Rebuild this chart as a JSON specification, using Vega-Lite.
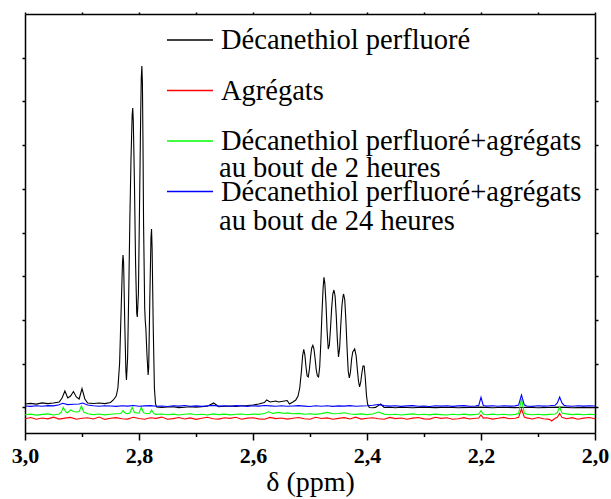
{
"$schema": "https://vega.github.io/schema/vega-lite/v6.json",
"width": 570, "height": 419,
"autosize": {"type": "none"},
"padding": {"left": 25, "top": 14, "right": 16, "bottom": 66},
"background": "white",
"config": {"view": {"stroke": null}, "font": "Times New Roman"},
"datasets": {
"spec": [
{"s":"a","x":3.00,"y":29.0},{"s":"a","x":2.99,"y":29.6},{"s":"a","x":2.98,"y":28.9},{"s":"a","x":2.97,"y":30.1},{"s":"a","x":2.96,"y":29.4},{"s":"a","x":2.95,"y":30.0},{"s":"a","x":2.94,"y":31.0},{"s":"a","x":2.935,"y":35.0},{"s":"a","x":2.930,"y":42.0},{"s":"a","x":2.925,"y":35.0},{"s":"a","x":2.920,"y":37.0},{"s":"a","x":2.915,"y":41.5},{"s":"a","x":2.910,"y":36.0},{"s":"a","x":2.905,"y":34.0},{"s":"a","x":2.900,"y":44.5},{"s":"a","x":2.895,"y":34.0},{"s":"a","x":2.890,"y":30.0},{"s":"a","x":2.88,"y":29.5},{"s":"a","x":2.87,"y":30.0},{"s":"a","x":2.86,"y":29.4},{"s":"a","x":2.85,"y":30.5},{"s":"a","x":2.845,"y":33.0},{"s":"a","x":2.840,"y":37.0},{"s":"a","x":2.837,"y":45.0},{"s":"a","x":2.834,"y":70.0},{"s":"a","x":2.831,"y":130.0},{"s":"a","x":2.829,"y":170.0},{"s":"a","x":2.828,"y":178.0},{"s":"a","x":2.827,"y":170.0},{"s":"a","x":2.825,"y":110.0},{"s":"a","x":2.823,"y":62.0},{"s":"a","x":2.822,"y":53.0},{"s":"a","x":2.820,"y":75.0},{"s":"a","x":2.818,"y":140.0},{"s":"a","x":2.816,"y":215.0},{"s":"a","x":2.814,"y":275.0},{"s":"a","x":2.812,"y":318.0},{"s":"a","x":2.811,"y":325.0},{"s":"a","x":2.810,"y":312.0},{"s":"a","x":2.808,"y":250.0},{"s":"a","x":2.806,"y":170.0},{"s":"a","x":2.804,"y":120.0},{"s":"a","x":2.803,"y":116.0},{"s":"a","x":2.801,"y":140.0},{"s":"a","x":2.799,"y":230.0},{"s":"a","x":2.797,"y":320.0},{"s":"a","x":2.796,"y":355.0},{"s":"a","x":2.795,"y":367.0},{"s":"a","x":2.794,"y":350.0},{"s":"a","x":2.793,"y":290.0},{"s":"a","x":2.792,"y":210.0},{"s":"a","x":2.790,"y":125.0},{"s":"a","x":2.789,"y":112.0},{"s":"a","x":2.788,"y":105.0},{"s":"a","x":2.786,"y":78.0},{"s":"a","x":2.784,"y":58.0},{"s":"a","x":2.783,"y":65.0},{"s":"a","x":2.781,"y":135.0},{"s":"a","x":2.779,"y":195.0},{"s":"a","x":2.778,"y":204.0},{"s":"a","x":2.777,"y":185.0},{"s":"a","x":2.775,"y":105.0},{"s":"a","x":2.773,"y":45.0},{"s":"a","x":2.771,"y":29.0},{"s":"a","x":2.769,"y":26.0},{"s":"a","x":2.76,"y":25.5},{"s":"a","x":2.75,"y":26.0},{"s":"a","x":2.74,"y":26.2},{"s":"a","x":2.73,"y":25.4},{"s":"a","x":2.72,"y":25.8},{"s":"a","x":2.71,"y":26.3},{"s":"a","x":2.70,"y":25.9},{"s":"a","x":2.69,"y":26.4},{"s":"a","x":2.68,"y":26.8},{"s":"a","x":2.669,"y":30.0},{"s":"a","x":2.66,"y":26.2},{"s":"a","x":2.65,"y":26.7},{"s":"a","x":2.64,"y":27.0},{"s":"a","x":2.63,"y":26.6},{"s":"a","x":2.62,"y":27.2},{"s":"a","x":2.61,"y":27.5},{"s":"a","x":2.60,"y":28.0},{"s":"a","x":2.59,"y":29.0},{"s":"a","x":2.58,"y":30.5},{"s":"a","x":2.576,"y":33.0},{"s":"a","x":2.57,"y":31.0},{"s":"a","x":2.565,"y":31.5},{"s":"a","x":2.56,"y":32.0},{"s":"a","x":2.555,"y":31.0},{"s":"a","x":2.55,"y":31.5},{"s":"a","x":2.54,"y":32.5},{"s":"a","x":2.536,"y":29.0},{"s":"a","x":2.530,"y":31.0},{"s":"a","x":2.525,"y":33.0},{"s":"a","x":2.521,"y":37.0},{"s":"a","x":2.518,"y":45.0},{"s":"a","x":2.515,"y":62.0},{"s":"a","x":2.513,"y":77.0},{"s":"a","x":2.511,"y":83.7},{"s":"a","x":2.509,"y":78.0},{"s":"a","x":2.507,"y":66.0},{"s":"a","x":2.505,"y":57.0},{"s":"a","x":2.503,"y":56.0},{"s":"a","x":2.501,"y":64.0},{"s":"a","x":2.499,"y":76.0},{"s":"a","x":2.497,"y":85.0},{"s":"a","x":2.495,"y":87.7},{"s":"a","x":2.493,"y":84.0},{"s":"a","x":2.491,"y":74.0},{"s":"a","x":2.489,"y":63.0},{"s":"a","x":2.487,"y":57.0},{"s":"a","x":2.485,"y":56.0},{"s":"a","x":2.483,"y":66.0},{"s":"a","x":2.481,"y":90.0},{"s":"a","x":2.479,"y":120.0},{"s":"a","x":2.477,"y":145.0},{"s":"a","x":2.4755,"y":155.7},{"s":"a","x":2.474,"y":150.0},{"s":"a","x":2.472,"y":130.0},{"s":"a","x":2.470,"y":102.0},{"s":"a","x":2.468,"y":84.0},{"s":"a","x":2.466,"y":88.0},{"s":"a","x":2.464,"y":105.0},{"s":"a","x":2.462,"y":125.0},{"s":"a","x":2.460,"y":139.0},{"s":"a","x":2.458,"y":143.0},{"s":"a","x":2.456,"y":137.0},{"s":"a","x":2.454,"y":118.0},{"s":"a","x":2.452,"y":93.0},{"s":"a","x":2.450,"y":76.0},{"s":"a","x":2.448,"y":85.0},{"s":"a","x":2.446,"y":108.0},{"s":"a","x":2.444,"y":127.0},{"s":"a","x":2.442,"y":137.0},{"s":"a","x":2.441,"y":139.0},{"s":"a","x":2.439,"y":133.0},{"s":"a","x":2.437,"y":112.0},{"s":"a","x":2.435,"y":85.0},{"s":"a","x":2.433,"y":62.0},{"s":"a","x":2.431,"y":55.0},{"s":"a","x":2.429,"y":61.0},{"s":"a","x":2.427,"y":74.0},{"s":"a","x":2.425,"y":81.0},{"s":"a","x":2.4216,"y":84.0},{"s":"a","x":2.419,"y":77.0},{"s":"a","x":2.417,"y":64.0},{"s":"a","x":2.415,"y":52.0},{"s":"a","x":2.413,"y":46.0},{"s":"a","x":2.411,"y":51.0},{"s":"a","x":2.409,"y":60.0},{"s":"a","x":2.407,"y":67.0},{"s":"a","x":2.405,"y":67.0},{"s":"a","x":2.403,"y":55.0},{"s":"a","x":2.401,"y":38.0},{"s":"a","x":2.399,"y":29.0},{"s":"a","x":2.396,"y":25.5},{"s":"a","x":2.39,"y":25.3},{"s":"a","x":2.385,"y":25.6},{"s":"a","x":2.376,"y":29.0},{"s":"a","x":2.37,"y":25.5},{"s":"a","x":2.36,"y":25.8},{"s":"a","x":2.35,"y":25.2},{"s":"a","x":2.34,"y":25.7},{"s":"a","x":2.32,"y":25.3},{"s":"a","x":2.30,"y":25.9},{"s":"a","x":2.28,"y":25.4},{"s":"a","x":2.26,"y":25.8},{"s":"a","x":2.24,"y":25.2},{"s":"a","x":2.22,"y":25.6},{"s":"a","x":2.20,"y":25.9},{"s":"a","x":2.18,"y":25.3},{"s":"a","x":2.16,"y":25.7},{"s":"a","x":2.14,"y":25.4},{"s":"a","x":2.12,"y":25.8},{"s":"a","x":2.10,"y":25.3},{"s":"a","x":2.08,"y":25.6},{"s":"a","x":2.06,"y":25.9},{"s":"a","x":2.04,"y":25.2},{"s":"a","x":2.02,"y":25.6},{"s":"a","x":2.00,"y":25.4},

{"s":"b","x":3.00,"y":14.2},{"s":"b","x":2.99,"y":15.5},{"s":"b","x":2.98,"y":13.8},{"s":"b","x":2.97,"y":15.0},{"s":"b","x":2.96,"y":14.1},{"s":"b","x":2.95,"y":15.8},{"s":"b","x":2.94,"y":13.9},{"s":"b","x":2.93,"y":14.9},{"s":"b","x":2.92,"y":15.6},{"s":"b","x":2.91,"y":13.7},{"s":"b","x":2.90,"y":14.8},{"s":"b","x":2.89,"y":15.3},{"s":"b","x":2.88,"y":14.0},{"s":"b","x":2.87,"y":15.9},{"s":"b","x":2.86,"y":13.6},{"s":"b","x":2.85,"y":14.7},{"s":"b","x":2.84,"y":15.4},{"s":"b","x":2.83,"y":14.3},{"s":"b","x":2.82,"y":13.9},{"s":"b","x":2.81,"y":15.7},{"s":"b","x":2.80,"y":14.5},{"s":"b","x":2.79,"y":13.8},{"s":"b","x":2.78,"y":15.2},{"s":"b","x":2.77,"y":14.6},{"s":"b","x":2.76,"y":15.9},{"s":"b","x":2.75,"y":13.7},{"s":"b","x":2.74,"y":14.4},{"s":"b","x":2.73,"y":15.5},{"s":"b","x":2.72,"y":14.0},{"s":"b","x":2.71,"y":15.1},{"s":"b","x":2.70,"y":13.6},{"s":"b","x":2.69,"y":14.8},{"s":"b","x":2.68,"y":15.7},{"s":"b","x":2.67,"y":14.2},{"s":"b","x":2.66,"y":13.9},{"s":"b","x":2.65,"y":15.3},{"s":"b","x":2.64,"y":14.6},{"s":"b","x":2.63,"y":15.8},{"s":"b","x":2.62,"y":13.8},{"s":"b","x":2.61,"y":14.9},{"s":"b","x":2.60,"y":15.2},{"s":"b","x":2.59,"y":14.1},{"s":"b","x":2.58,"y":13.7},{"s":"b","x":2.57,"y":15.6},{"s":"b","x":2.56,"y":14.4},{"s":"b","x":2.55,"y":15.0},{"s":"b","x":2.54,"y":13.9},{"s":"b","x":2.53,"y":14.8},{"s":"b","x":2.52,"y":15.5},{"s":"b","x":2.51,"y":14.2},{"s":"b","x":2.50,"y":13.8},{"s":"b","x":2.49,"y":15.7},{"s":"b","x":2.48,"y":14.5},{"s":"b","x":2.47,"y":15.1},{"s":"b","x":2.46,"y":13.7},{"s":"b","x":2.45,"y":14.6},{"s":"b","x":2.44,"y":15.4},{"s":"b","x":2.43,"y":14.0},{"s":"b","x":2.42,"y":15.8},{"s":"b","x":2.41,"y":13.9},{"s":"b","x":2.40,"y":14.7},{"s":"b","x":2.39,"y":15.3},{"s":"b","x":2.38,"y":14.2},{"s":"b","x":2.37,"y":13.8},{"s":"b","x":2.36,"y":15.6},{"s":"b","x":2.35,"y":14.4},{"s":"b","x":2.34,"y":15.0},{"s":"b","x":2.33,"y":13.7},{"s":"b","x":2.32,"y":14.9},{"s":"b","x":2.31,"y":15.5},{"s":"b","x":2.30,"y":14.1},{"s":"b","x":2.29,"y":13.9},{"s":"b","x":2.28,"y":15.7},{"s":"b","x":2.27,"y":14.6},{"s":"b","x":2.26,"y":15.2},{"s":"b","x":2.25,"y":13.8},{"s":"b","x":2.24,"y":14.3},{"s":"b","x":2.23,"y":15.4},{"s":"b","x":2.22,"y":14.0},{"s":"b","x":2.21,"y":14.8},{"s":"b","x":2.204,"y":15.0},{"s":"b","x":2.200,"y":18.0},{"s":"b","x":2.196,"y":14.9},{"s":"b","x":2.19,"y":15.3},{"s":"b","x":2.18,"y":13.9},{"s":"b","x":2.17,"y":14.7},{"s":"b","x":2.16,"y":15.6},{"s":"b","x":2.15,"y":14.2},{"s":"b","x":2.14,"y":14.8},{"s":"b","x":2.134,"y":15.8},{"s":"b","x":2.129,"y":24.0},{"s":"b","x":2.124,"y":16.0},{"s":"b","x":2.12,"y":15.1},{"s":"b","x":2.11,"y":14.0},{"s":"b","x":2.10,"y":15.5},{"s":"b","x":2.09,"y":14.3},{"s":"b","x":2.08,"y":13.6},{"s":"b","x":2.076,"y":12.0},{"s":"b","x":2.07,"y":14.8},{"s":"b","x":2.066,"y":15.8},{"s":"b","x":2.062,"y":19.7},{"s":"b","x":2.058,"y":15.6},{"s":"b","x":2.05,"y":14.2},{"s":"b","x":2.04,"y":15.4},{"s":"b","x":2.03,"y":13.8},{"s":"b","x":2.02,"y":14.9},{"s":"b","x":2.01,"y":15.5},{"s":"b","x":2.00,"y":14.3},

{"s":"c","x":3.00,"y":18.2},{"s":"c","x":2.99,"y":18.9},{"s":"c","x":2.98,"y":17.9},{"s":"c","x":2.97,"y":18.6},{"s":"c","x":2.96,"y":19.1},{"s":"c","x":2.95,"y":18.0},{"s":"c","x":2.94,"y":19.0},{"s":"c","x":2.936,"y":21.0},{"s":"c","x":2.933,"y":25.7},{"s":"c","x":2.929,"y":21.5},{"s":"c","x":2.926,"y":20.0},{"s":"c","x":2.920,"y":23.0},{"s":"c","x":2.915,"y":21.5},{"s":"c","x":2.910,"y":21.0},{"s":"c","x":2.905,"y":21.5},{"s":"c","x":2.901,"y":27.0},{"s":"c","x":2.897,"y":21.0},{"s":"c","x":2.89,"y":19.3},{"s":"c","x":2.88,"y":18.4},{"s":"c","x":2.87,"y":19.0},{"s":"c","x":2.86,"y":18.1},{"s":"c","x":2.85,"y":18.8},{"s":"c","x":2.84,"y":19.2},{"s":"c","x":2.832,"y":19.5},{"s":"c","x":2.828,"y":22.3},{"s":"c","x":2.824,"y":19.8},{"s":"c","x":2.82,"y":19.4},{"s":"c","x":2.816,"y":20.0},{"s":"c","x":2.812,"y":25.7},{"s":"c","x":2.808,"y":20.5},{"s":"c","x":2.80,"y":19.8},{"s":"c","x":2.796,"y":25.7},{"s":"c","x":2.792,"y":20.2},{"s":"c","x":2.785,"y":19.3},{"s":"c","x":2.781,"y":19.8},{"s":"c","x":2.778,"y":23.0},{"s":"c","x":2.774,"y":19.4},{"s":"c","x":2.77,"y":18.6},{"s":"c","x":2.76,"y":19.0},{"s":"c","x":2.75,"y":18.2},{"s":"c","x":2.74,"y":18.9},{"s":"c","x":2.73,"y":18.0},{"s":"c","x":2.72,"y":18.7},{"s":"c","x":2.71,"y":19.2},{"s":"c","x":2.70,"y":18.3},{"s":"c","x":2.69,"y":18.8},{"s":"c","x":2.68,"y":18.0},{"s":"c","x":2.67,"y":19.1},{"s":"c","x":2.66,"y":18.4},{"s":"c","x":2.65,"y":18.9},{"s":"c","x":2.64,"y":18.1},{"s":"c","x":2.63,"y":18.7},{"s":"c","x":2.62,"y":19.0},{"s":"c","x":2.61,"y":18.3},{"s":"c","x":2.60,"y":18.9},{"s":"c","x":2.59,"y":18.6},{"s":"c","x":2.58,"y":19.5},{"s":"c","x":2.573,"y":21.2},{"s":"c","x":2.565,"y":19.6},{"s":"c","x":2.555,"y":20.6},{"s":"c","x":2.545,"y":19.5},{"s":"c","x":2.54,"y":20.1},{"s":"c","x":2.53,"y":19.2},{"s":"c","x":2.52,"y":19.6},{"s":"c","x":2.51,"y":18.8},{"s":"c","x":2.50,"y":19.3},{"s":"c","x":2.49,"y":18.6},{"s":"c","x":2.48,"y":19.4},{"s":"c","x":2.47,"y":20.6},{"s":"c","x":2.46,"y":19.2},{"s":"c","x":2.45,"y":19.5},{"s":"c","x":2.44,"y":20.3},{"s":"c","x":2.43,"y":19.0},{"s":"c","x":2.42,"y":18.6},{"s":"c","x":2.41,"y":19.1},{"s":"c","x":2.40,"y":18.4},{"s":"c","x":2.39,"y":19.0},{"s":"c","x":2.38,"y":21.0},{"s":"c","x":2.37,"y":18.9},{"s":"c","x":2.36,"y":18.2},{"s":"c","x":2.35,"y":18.8},{"s":"c","x":2.34,"y":18.0},{"s":"c","x":2.33,"y":18.6},{"s":"c","x":2.32,"y":19.1},{"s":"c","x":2.31,"y":18.3},{"s":"c","x":2.30,"y":18.7},{"s":"c","x":2.29,"y":18.1},{"s":"c","x":2.28,"y":18.9},{"s":"c","x":2.27,"y":18.4},{"s":"c","x":2.26,"y":18.0},{"s":"c","x":2.25,"y":18.8},{"s":"c","x":2.24,"y":18.3},{"s":"c","x":2.23,"y":18.9},{"s":"c","x":2.22,"y":18.1},{"s":"c","x":2.21,"y":18.6},{"s":"c","x":2.204,"y":19.0},{"s":"c","x":2.200,"y":22.3},{"s":"c","x":2.196,"y":18.8},{"s":"c","x":2.19,"y":18.3},{"s":"c","x":2.18,"y":18.9},{"s":"c","x":2.17,"y":18.2},{"s":"c","x":2.16,"y":18.7},{"s":"c","x":2.15,"y":18.0},{"s":"c","x":2.14,"y":18.6},{"s":"c","x":2.134,"y":19.5},{"s":"c","x":2.129,"y":34.0},{"s":"c","x":2.124,"y":19.8},{"s":"c","x":2.12,"y":18.9},{"s":"c","x":2.11,"y":18.3},{"s":"c","x":2.10,"y":18.8},{"s":"c","x":2.09,"y":18.1},{"s":"c","x":2.08,"y":18.6},{"s":"c","x":2.07,"y":19.0},{"s":"c","x":2.066,"y":20.5},{"s":"c","x":2.062,"y":26.3},{"s":"c","x":2.058,"y":20.0},{"s":"c","x":2.05,"y":19.1},{"s":"c","x":2.04,"y":18.4},{"s":"c","x":2.03,"y":18.9},{"s":"c","x":2.02,"y":18.2},{"s":"c","x":2.01,"y":18.8},{"s":"c","x":2.00,"y":18.5},

{"s":"d","x":3.00,"y":27.0},{"s":"d","x":2.99,"y":26.6},{"s":"d","x":2.98,"y":27.3},{"s":"d","x":2.97,"y":26.8},{"s":"d","x":2.96,"y":27.4},{"s":"d","x":2.95,"y":27.1},{"s":"d","x":2.94,"y":28.2},{"s":"d","x":2.934,"y":29.7},{"s":"d","x":2.925,"y":28.4},{"s":"d","x":2.915,"y":28.8},{"s":"d","x":2.905,"y":29.0},{"s":"d","x":2.899,"y":30.0},{"s":"d","x":2.89,"y":28.0},{"s":"d","x":2.88,"y":27.2},{"s":"d","x":2.87,"y":26.8},{"s":"d","x":2.86,"y":27.3},{"s":"d","x":2.85,"y":27.0},{"s":"d","x":2.84,"y":26.6},{"s":"d","x":2.83,"y":27.2},{"s":"d","x":2.82,"y":26.9},{"s":"d","x":2.81,"y":27.5},{"s":"d","x":2.80,"y":26.7},{"s":"d","x":2.79,"y":27.1},{"s":"d","x":2.78,"y":27.4},{"s":"d","x":2.77,"y":26.8},{"s":"d","x":2.76,"y":27.0},{"s":"d","x":2.75,"y":26.5},{"s":"d","x":2.74,"y":27.2},{"s":"d","x":2.73,"y":26.9},{"s":"d","x":2.72,"y":27.5},{"s":"d","x":2.71,"y":26.8},{"s":"d","x":2.70,"y":27.1},{"s":"d","x":2.69,"y":26.6},{"s":"d","x":2.68,"y":27.3},{"s":"d","x":2.67,"y":27.6},{"s":"d","x":2.66,"y":26.9},{"s":"d","x":2.65,"y":27.2},{"s":"d","x":2.64,"y":26.7},{"s":"d","x":2.63,"y":27.4},{"s":"d","x":2.62,"y":27.0},{"s":"d","x":2.61,"y":26.6},{"s":"d","x":2.60,"y":27.2},{"s":"d","x":2.59,"y":26.9},{"s":"d","x":2.58,"y":27.5},{"s":"d","x":2.57,"y":27.1},{"s":"d","x":2.56,"y":26.8},{"s":"d","x":2.55,"y":27.3},{"s":"d","x":2.54,"y":26.7},{"s":"d","x":2.53,"y":27.0},{"s":"d","x":2.52,"y":27.4},{"s":"d","x":2.51,"y":26.9},{"s":"d","x":2.50,"y":26.5},{"s":"d","x":2.49,"y":27.2},{"s":"d","x":2.48,"y":26.8},{"s":"d","x":2.47,"y":27.3},{"s":"d","x":2.46,"y":26.6},{"s":"d","x":2.45,"y":27.1},{"s":"d","x":2.44,"y":26.9},{"s":"d","x":2.43,"y":27.4},{"s":"d","x":2.42,"y":26.7},{"s":"d","x":2.41,"y":27.0},{"s":"d","x":2.40,"y":27.3},{"s":"d","x":2.39,"y":27.8},{"s":"d","x":2.38,"y":28.5},{"s":"d","x":2.37,"y":27.4},{"s":"d","x":2.36,"y":26.9},{"s":"d","x":2.35,"y":27.2},{"s":"d","x":2.34,"y":26.6},{"s":"d","x":2.33,"y":27.1},{"s":"d","x":2.32,"y":27.4},{"s":"d","x":2.31,"y":26.8},{"s":"d","x":2.30,"y":27.0},{"s":"d","x":2.29,"y":26.5},{"s":"d","x":2.28,"y":27.3},{"s":"d","x":2.27,"y":26.9},{"s":"d","x":2.26,"y":27.2},{"s":"d","x":2.25,"y":26.6},{"s":"d","x":2.24,"y":27.1},{"s":"d","x":2.23,"y":27.4},{"s":"d","x":2.22,"y":26.8},{"s":"d","x":2.21,"y":27.0},{"s":"d","x":2.204,"y":27.6},{"s":"d","x":2.200,"y":35.7},{"s":"d","x":2.196,"y":27.5},{"s":"d","x":2.19,"y":26.9},{"s":"d","x":2.18,"y":27.2},{"s":"d","x":2.17,"y":26.7},{"s":"d","x":2.16,"y":27.3},{"s":"d","x":2.15,"y":26.9},{"s":"d","x":2.14,"y":27.1},{"s":"d","x":2.134,"y":28.0},{"s":"d","x":2.129,"y":38.0},{"s":"d","x":2.124,"y":28.2},{"s":"d","x":2.12,"y":27.0},{"s":"d","x":2.11,"y":26.6},{"s":"d","x":2.10,"y":27.3},{"s":"d","x":2.09,"y":26.9},{"s":"d","x":2.08,"y":27.2},{"s":"d","x":2.07,"y":27.8},{"s":"d","x":2.066,"y":30.0},{"s":"d","x":2.062,"y":36.0},{"s":"d","x":2.058,"y":30.0},{"s":"d","x":2.054,"y":27.6},{"s":"d","x":2.05,"y":27.1},{"s":"d","x":2.04,"y":26.8},{"s":"d","x":2.03,"y":27.3},{"s":"d","x":2.02,"y":26.9},{"s":"d","x":2.01,"y":27.2},{"s":"d","x":2.00,"y":27.0}
]
},
"data": {"name": "spec"},
"layer": [
{
"mark": {"type": "line", "strokeWidth": 1.1},
"encoding": {
"x": {"field": "x", "type": "quantitative",
"scale": {"domain": [2, 3], "reverse": true, "nice": false, "zero": false},
"axis": {"orient": "bottom", "values": [2.0,2.1,2.2,2.3,2.4,2.5,2.6,2.7,2.8,2.9,3.0],
"labelExpr": "round(datum.value*10) % 2 == 0 ? replace(format(datum.value, '.1f'), '.', ',') : ''",
"tickSize": {"condition": {"test": "round(datum.value*10) % 2 == 0", "value": 7}, "value": 3.5},
"tickColor": "black", "tickWidth": 1.5, "domainColor": "black", "domainWidth": 1.5,
"labelFont": "Times New Roman", "labelFontWeight": "bold", "labelFontSize": 22, "labelColor": "black", "labelPadding": 5, "labelFlush": false,
"grid": false, "title": "δ (ppm)", "titleFont": "Times New Roman", "titleFontWeight": "normal", "titleFontSize": 28, "titleColor": "black", "titlePadding": 2}},
"y": {"field": "y", "type": "quantitative",
"scale": {"domain": [0, 419], "nice": false, "zero": false},
"axis": {"orient": "left", "values": [25.6,69.3,113,156.7,200.4,244.1,287.8,331.5,375.2], "labels": false, "title": null, "grid": false, "tickSize": 3, "tickWidth": 1.5, "tickColor": "black", "domainColor": "black", "domainWidth": 1.5}},
"color": {"field": "s", "type": "nominal",
"scale": {"domain": ["a","b","c","d"], "range": ["#000000","#ff0000","#00ff00","#0000ff"]},
"legend": {"orient": "none", "legendX": 141, "legendY": 2, "title": null, "padding": 0,
"symbolType": "stroke", "symbolSize": 2116, "symbolStrokeWidth": 1.3,
"labelFont": "Times New Roman", "labelFontSize": 28.5, "labelColor": "black", "labelLimit": 0, "labelOffset": 7, "labelBaseline": "middle", "rowPadding": 11.5,
"labelExpr": "datum.value == 'a' ? 'Décanethiol perfluoré' : datum.value == 'b' ? 'Agrégats' : 'Décanethiol perfluoré+agrégats'"}}
}
},
{
"mark": {"type": "point", "opacity": 0},
"encoding": {
"x": {"field": "x", "type": "quantitative",
"axis": {"orient": "top", "values": [2.0,2.1,2.2,2.3,2.4,2.5,2.6,2.7,2.8,2.9,3.0], "labels": false, "title": null, "grid": false, "tickSize": 2, "tickWidth": 1.5, "tickColor": "black", "domainColor": "black", "domainWidth": 1.5}},
"y": {"field": "y", "type": "quantitative",
"axis": {"orient": "right", "values": [25.6,69.3,113,156.7,200.4,244.1,287.8,331.5,375.2], "labels": false, "title": null, "grid": false, "tickSize": 3, "tickWidth": 1.5, "tickColor": "black", "domainColor": "black", "domainWidth": 1.5}},
"shape": {"field": "s", "type": "nominal",
"scale": {"domain": ["c","d"], "range": ["stroke","stroke"]},
"legend": {"orient": "none", "legendX": 141, "legendY": 131, "title": null, "padding": 0,
"symbolSize": 2116, "symbolOpacity": 0, "symbolStrokeWidth": 0,
"labelFont": "Times New Roman", "labelFontSize": 28.5, "labelColor": "black", "labelLimit": 0, "labelOffset": 7, "labelBaseline": "middle", "rowPadding": 15,
"labelExpr": "datum.value == 'c' ? 'au bout de 2 heures' : 'au bout de 24 heures'"}}
}
}
],
"resolve": {"axis": {"x": "independent", "y": "independent"}}
}
